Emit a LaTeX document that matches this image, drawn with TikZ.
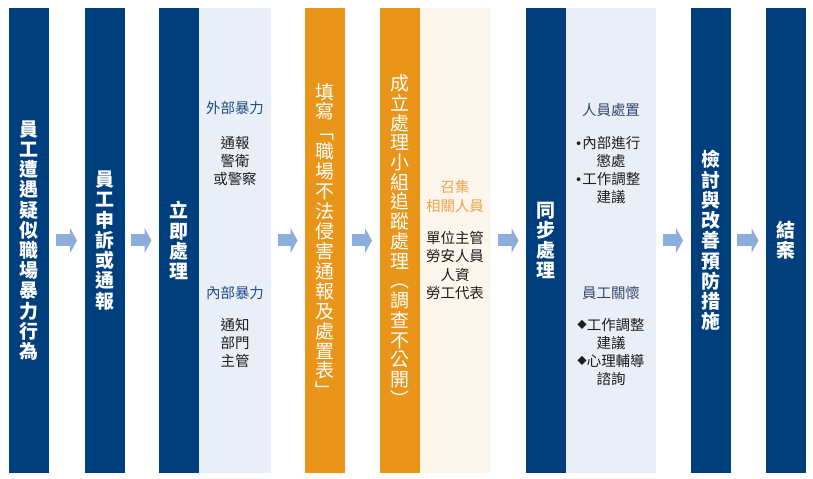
\documentclass[tikz,border=0pt]{standalone}
\usepackage{fontspec}
\setmainfont{Noto Sans CJK TC}
\newfontfamily\dvfont{DejaVu Sans}
\usetikzlibrary{arrows.meta}
\definecolor{navy}{HTML}{003F7E}
\definecolor{orng}{HTML}{E8951A}
\definecolor{pblue}{HTML}{EAEFF7}
\definecolor{porng}{HTML}{FDF6EC}
\definecolor{arr}{HTML}{8DAEDA}
\definecolor{hblue}{HTML}{1F4E8C}
\definecolor{hgray}{HTML}{34476E}
\definecolor{lorng}{HTML}{F0A04B}
\definecolor{txt}{HTML}{1E1E1E}
\newcommand{\dmd}{\raisebox{1.6bp}{\fontsize{9.5}{9.5}\selectfont ◆}}
\newcommand{\bul}{{\dvfont\fontsize{13}{13}\selectfont •}}
\tikzset{
  colbox/.style={minimum width=40bp, minimum height=465bp, inner sep=0, outer sep=0,
    align=center, text=white, font=\fontsize{19}{20.3}\selectfont\bfseries},
  navycol/.style={colbox, fill=navy},
  orngcol/.style={colbox, fill=orng, font=\fontsize{19}{20}\selectfont},
  bpanel/.style={fill=pblue, minimum height=465bp, inner sep=0, outer sep=0},
  opanel/.style={fill=porng, minimum height=465bp, inner sep=0, outer sep=0},
  ptext/.style={align=center, inner sep=0, text=txt, font=\fontsize{14.5}{18.2}\selectfont},
  phead/.style={ptext, text=hblue},
  bigarrow/.style={draw=arr, line width=12bp, -{Triangle[length=7bp,width=25bp]},
    shorten <=6.5bp, shorten >=7.5bp}
}
\begin{document}
\begin{tikzpicture}[x=1bp,y=-1bp]
\useasboundingbox (0,0) rectangle (813,479);
% columns and panels
\node[navycol] (c1) at (29,240.5) {員\\工\\遭\\遇\\疑\\似\\職\\場\\暴\\力\\行\\為};
\node[navycol] (c2) at (104.5,240.5) {員\\工\\申\\訴\\或\\通\\報};
\node[bpanel, minimum width=72bp] (p1) at (235,240.5) {};
\node[navycol] (c3) at (179,240.5) {立\\即\\處\\理};
\node[orngcol] (o1) at (325,240.5) {填\\寫\\﹁\\職\\場\\不\\法\\侵\\害\\通\\報\\及\\處\\置\\表\\﹂};
\node[opanel, minimum width=72bp] (p2) at (455,240.5) {};
\node[orngcol, font=\fontsize{19}{19.8}\selectfont] (o2) at (399.5,240.5) {成\\立\\處\\理\\小\\組\\追\\蹤\\處\\理\\︵\\調\\查\\不\\公\\開\\︶};
\node[bpanel, minimum width=90bp] (p3) at (611,240.5) {};
\node[navycol] (c4) at (546,240.5) {同\\步\\處\\理};
\node[navycol] (c5) at (710.5,240.5) {檢\\討\\與\\改\\善\\預\\防\\措\\施};
\node[navycol] (c6) at (786,240.5) {結\\案};
% panel 1 texts
\node[phead] (t1a) at (235,108) {外部暴力};
\node[ptext] (t1b) at (235,161) {通報\\警衛\\或警察};
\node[phead] (t1c) at (235,293) {內部暴力};
\node[ptext] (t1d) at (235,343) {通知\\部門\\主管};
% panel 2 texts
\node[ptext, text=lorng, font=\fontsize{14.5}{19}\selectfont] (t2a) at (455,196.5) {召集\\相關人員};
\node[ptext] (t2b) at (455,265.5) {單位主管\\勞安人員\\人資\\勞工代表};
% panel 3 texts
\node[phead, text=hgray] (t3a) at (611,110) {人員處置};
\node[ptext] (t3b) at (607.5,170) {\bul 內部進行\\\hspace*{7bp}懲處\\\bul 工作調整\\\hspace*{7bp}建議};
\node[phead, text=hgray] (t3c) at (611,293) {員工關懷};
\node[ptext] (t3d) at (611,352) {\dmd 工作調整\\建議\\\dmd 心理輔導\\諮詢};
% arrows
\draw[bigarrow] (c1) -- (c2);
\draw[bigarrow] (c2) -- (c3);
\draw[bigarrow] (p1) -- (o1);
\draw[bigarrow] (o1) -- (o2);
\draw[bigarrow] (p2) -- (c4);
\draw[bigarrow] (p3) -- (c5);
\draw[bigarrow] (c5) -- (c6);
\end{tikzpicture}
\end{document}
